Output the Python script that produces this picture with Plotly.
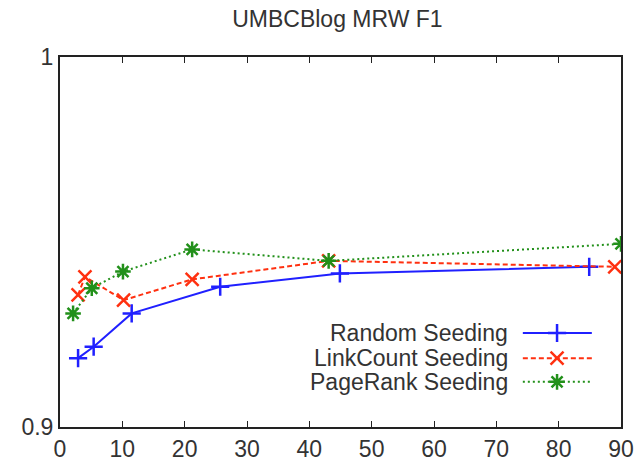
import plotly.graph_objects as go

title = "UMBCBlog MRW F1"
series_names = ["Random Seeding", "LinkCount Seeding", "PageRank Seeding"]

random_x = [2.9, 5.4, 11.5, 25.7, 44.9, 84.9]
random_y = [0.9186, 0.9217, 0.9307, 0.9379, 0.9415, 0.9433]

linkcount_x = [2.9, 4.0, 10.2, 21.2, 43.1, 89.0]
linkcount_y = [0.9357, 0.9406, 0.9343, 0.9399, 0.9449, 0.9433]

pagerank_x = [2.1, 5.1, 10.1, 21.2, 43.1, 90.0]
pagerank_y = [0.9307, 0.9375, 0.9420, 0.9480, 0.9449, 0.9495]

x_ticks = [0, 10, 20, 30, 40, 50, 60, 70, 80, 90]
y_ticks = [0.9, 1.0]
y_tick_labels = ["0.9", "1"]

colors = ["#2020ff", "#ff3010", "#22901a"]
dashes = ["solid", "5px,3px", "2px,3px"]
symbols = ["cross-thin-open", "x-thin-open", "asterisk-open"]
xs = [random_x, linkcount_x, pagerank_x]
ys = [random_y, linkcount_y, pagerank_y]

FONT = "Liberation Sans, Arial, Helvetica, sans-serif"
TXT = "#333333"

fig = go.Figure()
for name, x, y, c, d, s in zip(series_names, xs, ys, colors, dashes, symbols):
    fig.add_trace(go.Scatter(
        x=x, y=y, mode="lines+markers", name=name,
        line=dict(color=c, width=2, dash=d),
        marker=dict(symbol=s, size=13, color=c, line=dict(color=c, width=2.5)),
        showlegend=False,
    ))

# custom gnuplot-style legend (text right-aligned, sample to the right)
legend_rows = [0.254, 0.186, 0.122]
for name, c, d, s, ry in zip(series_names, colors, dashes, symbols, legend_rows):
    fig.add_trace(go.Scatter(
        x=[0.825, 0.948], y=[ry, ry], mode="lines", xaxis="x2", yaxis="y2",
        line=dict(color=c, width=2, dash=d), showlegend=False, hoverinfo="skip",
    ))
    fig.add_trace(go.Scatter(
        x=[0.886], y=[ry], mode="markers", xaxis="x2", yaxis="y2",
        marker=dict(symbol=s, size=13, color=c, line=dict(color=c, width=2.5)),
        showlegend=False, hoverinfo="skip",
    ))
    fig.add_annotation(
        x=0.802, y=ry, xref="x2", yref="y2", text=name, showarrow=False,
        xanchor="right", yanchor="middle",
        font=dict(family=FONT, size=23, color=TXT),
    )

fig.update_layout(
    width=639, height=461,
    margin=dict(l=60, r=18, t=57, b=34, autoexpand=False),
    paper_bgcolor="white", plot_bgcolor="white",
    title=dict(text=title, x=0.528, xanchor="center", y=0.958, yanchor="middle",
               font=dict(family=FONT, size=23, color=TXT)),
    font=dict(family=FONT, size=23, color=TXT),
    xaxis=dict(range=[0, 90], tickvals=x_ticks, ticks="inside", ticklen=6,
               tickcolor="#222222", showgrid=False, zeroline=False,
               showline=True, linecolor="#222222", linewidth=2, mirror="ticks",
               automargin=False, tickfont=dict(size=23, color=TXT)),
    yaxis=dict(range=[0.9, 1.0], tickvals=y_ticks, ticktext=y_tick_labels,
               ticks="", showgrid=False, zeroline=False, automargin=False,
               showline=True, linecolor="#222222", linewidth=2, mirror=True,
               tickfont=dict(size=23, color=TXT)),
    xaxis2=dict(range=[0, 1], overlaying="x", visible=False),
    yaxis2=dict(range=[0, 1], overlaying="y", visible=False),
)

fig.write_html("out.html")
